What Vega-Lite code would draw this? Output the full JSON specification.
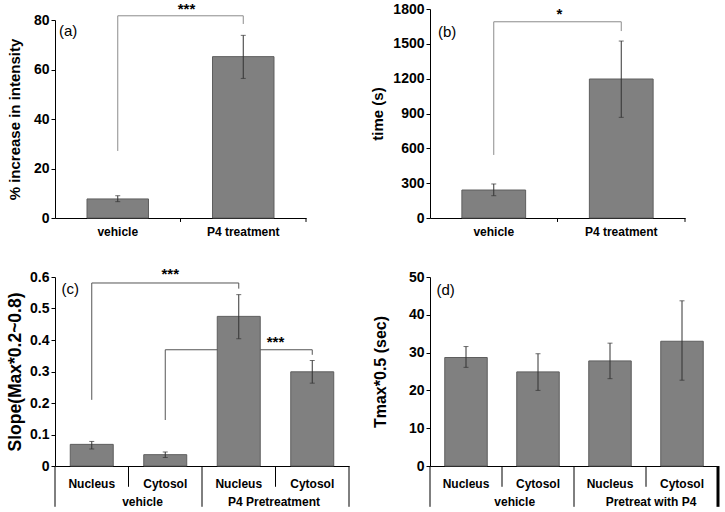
{
  "$schema": "https://vega.github.io/schema/vega-lite/v6.json",
  "background": "white",
  "padding": {"left": 6, "top": 1, "right": 0, "bottom": 0},
  "columns": 2,
  "spacing": {"row": 59, "column": 81},
  "bounds": "flush",
  "config": {
    "view": {"stroke": null},
    "font": "Liberation Sans",
    "text": {"font": "Liberation Sans", "color": "black"},
    "axis": {
      "domainColor": "black", "tickColor": "black", "labelColor": "black", "titleColor": "black",
      "labelFont": "Liberation Sans", "titleFont": "Liberation Sans",
      "labelFontWeight": "bold", "titleFontWeight": "bold", "titleFontSize": 15, "grid": false
    },
    "axisY": {"labelFontSize": 14, "tickSize": 4, "labelPadding": 2},
    "axisX": {"labelFontSize": 12, "labelAngle": 0, "ticks": false, "tickSize": 0}
  },
  "datasets": {
    "a_bars": [
      {"c": "vehicle", "v": 7.7, "lo": 6.6, "hi": 9.0},
      {"c": "P4 treatment", "v": 65.2, "lo": 56.4, "hi": 73.8}
    ],
    "a_br": [
      {"xa": "vehicle", "xb": "P4 treatment", "ya": 81.7, "yb": 81.7},
      {"xa": "vehicle", "xb": "vehicle", "ya": 81.7, "yb": 27.1},
      {"xa": "P4 treatment", "xb": "P4 treatment", "ya": 81.7, "yb": 78.4}
    ],
    "a_tk": [
      {"c": "vehicle", "t": 0, "b": -1.6},
      {"c": "P4 treatment", "t": 0, "b": -1.6}
    ],
    "b_bars": [
      {"c": "vehicle", "v": 241, "lo": 192, "hi": 293},
      {"c": "P4 treatment", "v": 1197, "lo": 867, "hi": 1524}
    ],
    "b_br": [
      {"xa": "vehicle", "xb": "P4 treatment", "ya": 1690, "yb": 1690},
      {"xa": "vehicle", "xb": "vehicle", "ya": 1690, "yb": 543},
      {"xa": "P4 treatment", "xb": "P4 treatment", "ya": 1690, "yb": 1610}
    ],
    "b_tk": [
      {"c": "vehicle", "t": 0, "b": -34},
      {"c": "P4 treatment", "t": 0, "b": -34}
    ],
    "c_bars": [
      {"k": "Nucleus|v", "v": 0.0687, "lo": 0.054, "hi": 0.078},
      {"k": "Cytosol|v", "v": 0.036, "lo": 0.027, "hi": 0.0445},
      {"k": "Nucleus|p", "v": 0.475, "lo": 0.404, "hi": 0.544},
      {"k": "Cytosol|p", "v": 0.299, "lo": 0.263, "hi": 0.335}
    ],
    "c_br": [
      {"xa": "Nucleus|v", "xb": "Nucleus|p", "ya": 0.581, "yb": 0.581},
      {"xa": "Nucleus|v", "xb": "Nucleus|v", "ya": 0.581, "yb": 0.21},
      {"xa": "Nucleus|p", "xb": "Nucleus|p", "ya": 0.581, "yb": 0.563},
      {"xa": "Cytosol|v", "xb": "Cytosol|p", "ya": 0.369, "yb": 0.369},
      {"xa": "Cytosol|v", "xb": "Cytosol|v", "ya": 0.369, "yb": 0.146},
      {"xa": "Cytosol|p", "xb": "Cytosol|p", "ya": 0.369, "yb": 0.353}
    ],
    "c_sep": [
      {"k": "Nucleus|v", "t": 0, "b": -0.066},
      {"k": "Cytosol|v", "t": 0, "b": -0.1295},
      {"k": "Nucleus|p", "t": 0, "b": -0.066},
      {"k": "Cytosol|p", "t": 0, "b": -0.1295}
    ],
    "d_bars": [
      {"k": "Nucleus|v", "v": 28.7, "lo": 26.1, "hi": 31.6},
      {"k": "Cytosol|v", "v": 24.9, "lo": 20.0, "hi": 29.7},
      {"k": "Nucleus|p", "v": 27.8, "lo": 23.1, "hi": 32.5},
      {"k": "Cytosol|p", "v": 33.0, "lo": 22.7, "hi": 43.7}
    ],
    "d_sep": [
      {"k": "Nucleus|v", "t": 0, "b": -5.5},
      {"k": "Cytosol|v", "t": 0, "b": -10.8},
      {"k": "Nucleus|p", "t": 0, "b": -5.5}
    ]
  },
  "concat": [
    {
      "width": 251, "height": 209,
      "encoding": {
        "x": {"type": "nominal", "scale": {"type": "band", "domain": ["vehicle", "P4 treatment"], "paddingInner": 0, "paddingOuter": 0}, "axis": {"title": null, "labelPadding": 8}},
        "y": {"type": "quantitative", "scale": {"domain": [0, 80], "range": [209, 11]}, "axis": {"values": [0, 20, 40, 60, 80], "title": "% increase in intensity", "titlePadding": 11}}
      },
      "layer": [
        {"data": {"name": "a_br"}, "mark": {"type": "rule", "color": "#8c8c8c", "strokeWidth": 1},
         "encoding": {"x": {"field": "xa"}, "x2": {"field": "xb"}, "y": {"field": "ya"}, "y2": {"field": "yb"}}},
        {"data": {"name": "a_bars"}, "mark": {"type": "bar", "fill": "#808080", "stroke": "#5e5e5e", "strokeWidth": 1, "width": {"band": 0.49}},
         "encoding": {"x": {"field": "c"}, "y": {"field": "v"}}},
        {"data": {"name": "a_bars"}, "mark": {"type": "rule", "color": "#333333", "strokeWidth": 1},
         "encoding": {"x": {"field": "c"}, "y": {"field": "lo"}, "y2": {"field": "hi"}}},
        {"data": {"name": "a_bars"}, "transform": [{"fold": ["lo", "hi"], "as": ["kk", "e"]}], "mark": {"type": "tick", "color": "#333333", "thickness": 1, "size": 5},
         "encoding": {"x": {"field": "c"}, "y": {"field": "e"}}},
        {"data": {"name": "a_tk"}, "mark": {"type": "rule", "color": "black", "strokeWidth": 1},
         "encoding": {"x": {"field": "c", "bandPosition": 1}, "y": {"field": "t"}, "y2": {"field": "b"}}},
        {"data": {"values": [{"c": "P4 treatment", "y": 84.5, "t": "***"}]}, "mark": {"type": "text", "fontSize": 15, "fontWeight": "bold", "dx": 6, "baseline": "middle"},
         "encoding": {"x": {"field": "c", "bandPosition": 0}, "y": {"field": "y"}, "text": {"field": "t"}}},
        {"data": {"values": [{"c": "vehicle", "y": 75.4, "t": "(a)"}]}, "mark": {"type": "text", "fontSize": 15, "align": "left", "dx": 4, "baseline": "middle"},
         "encoding": {"x": {"field": "c", "bandPosition": 0}, "y": {"field": "y"}, "text": {"field": "t"}}}
      ]
    },
    {
      "width": 255, "height": 209,
      "encoding": {
        "x": {"type": "nominal", "scale": {"type": "band", "domain": ["vehicle", "P4 treatment"], "paddingInner": 0, "paddingOuter": 0}, "axis": {"title": null, "labelPadding": 8}},
        "y": {"type": "quantitative", "scale": {"domain": [0, 1800]}, "axis": {"values": [0, 300, 600, 900, 1200, 1500, 1800], "format": "d", "title": "time (s)", "titlePadding": 7}}
      },
      "layer": [
        {"data": {"name": "b_br"}, "mark": {"type": "rule", "color": "#8c8c8c", "strokeWidth": 1},
         "encoding": {"x": {"field": "xa"}, "x2": {"field": "xb"}, "y": {"field": "ya"}, "y2": {"field": "yb"}}},
        {"data": {"name": "b_bars"}, "mark": {"type": "bar", "fill": "#808080", "stroke": "#5e5e5e", "strokeWidth": 1, "width": {"band": 0.5}},
         "encoding": {"x": {"field": "c"}, "y": {"field": "v"}}},
        {"data": {"name": "b_bars"}, "mark": {"type": "rule", "color": "#333333", "strokeWidth": 1},
         "encoding": {"x": {"field": "c"}, "y": {"field": "lo"}, "y2": {"field": "hi"}}},
        {"data": {"name": "b_bars"}, "transform": [{"fold": ["lo", "hi"], "as": ["kk", "e"]}], "mark": {"type": "tick", "color": "#333333", "thickness": 1, "size": 5},
         "encoding": {"x": {"field": "c"}, "y": {"field": "e"}}},
        {"data": {"name": "b_tk"}, "mark": {"type": "rule", "color": "black", "strokeWidth": 1},
         "encoding": {"x": {"field": "c", "bandPosition": 1}, "y": {"field": "t"}, "y2": {"field": "b"}}},
        {"data": {"values": [{"c": "P4 treatment", "y": 1761, "t": "*"}]}, "mark": {"type": "text", "fontSize": 15, "fontWeight": "bold", "dx": 2, "baseline": "middle"},
         "encoding": {"x": {"field": "c", "bandPosition": 0}, "y": {"field": "y"}, "text": {"field": "t"}}},
        {"data": {"values": [{"c": "vehicle", "y": 1604, "t": "(b)"}]}, "mark": {"type": "text", "fontSize": 15, "align": "left", "dx": 8, "baseline": "middle"},
         "encoding": {"x": {"field": "c", "bandPosition": 0}, "y": {"field": "y"}, "text": {"field": "t"}}}
      ]
    },
    {
      "width": 294, "height": 189,
      "encoding": {
        "x": {"type": "nominal", "scale": {"type": "band", "domain": ["Nucleus|v", "Cytosol|v", "Nucleus|p", "Cytosol|p"], "paddingInner": 0, "paddingOuter": 0}, "axis": {"title": null, "labelPadding": 12, "labelExpr": "split(datum.value, '|')[0]"}},
        "y": {"type": "quantitative", "scale": {"domain": [0, 0.6]}, "axis": {"values": [0, 0.1, 0.2, 0.3, 0.4, 0.5, 0.6], "format": "~g", "title": "Slope(Max*0.2~0.8)", "titleFontSize": 17.5, "titlePadding": 5}}
      },
      "layer": [
        {"data": {"name": "c_br"}, "mark": {"type": "rule", "color": "#555555", "strokeWidth": 1},
         "encoding": {"x": {"field": "xa"}, "x2": {"field": "xb"}, "y": {"field": "ya"}, "y2": {"field": "yb"}}},
        {"data": {"name": "c_bars"}, "mark": {"type": "bar", "fill": "#808080", "stroke": "#5e5e5e", "strokeWidth": 1, "width": {"band": 0.585}},
         "encoding": {"x": {"field": "k"}, "y": {"field": "v"}}},
        {"data": {"name": "c_bars"}, "mark": {"type": "rule", "color": "#333333", "strokeWidth": 1},
         "encoding": {"x": {"field": "k"}, "y": {"field": "lo"}, "y2": {"field": "hi"}}},
        {"data": {"name": "c_bars"}, "transform": [{"fold": ["lo", "hi"], "as": ["kk", "e"]}], "mark": {"type": "tick", "color": "#333333", "thickness": 1, "size": 5},
         "encoding": {"x": {"field": "k"}, "y": {"field": "e"}}},
        {"data": {"name": "c_sep"}, "mark": {"type": "rule", "color": "black", "strokeWidth": 1},
         "encoding": {"x": {"field": "k", "bandPosition": 1}, "y": {"field": "t"}, "y2": {"field": "b"}}},
        {"data": {"values": [{"k": "Nucleus|v", "t": 0, "b": -0.1295}]}, "mark": {"type": "rule", "color": "black", "strokeWidth": 1},
         "encoding": {"x": {"field": "k", "bandPosition": 0}, "y": {"field": "t"}, "y2": {"field": "b"}}},
        {"data": {"values": [{"k": "Cytosol|v", "y": -0.1263, "t": "vehicle"}]}, "mark": {"type": "text", "fontSize": 12, "fontWeight": "bold", "dx": 14, "baseline": "alphabetic"},
         "encoding": {"x": {"field": "k", "bandPosition": 0}, "y": {"field": "y"}, "text": {"field": "t"}}},
        {"data": {"values": [{"k": "Cytosol|p", "y": -0.1263, "t": "P4 Pretreatment"}]}, "mark": {"type": "text", "fontSize": 12, "fontWeight": "bold", "dx": -1.5, "baseline": "alphabetic"},
         "encoding": {"x": {"field": "k", "bandPosition": 0}, "y": {"field": "y"}, "text": {"field": "t"}}},
        {"data": {"values": [{"k": "Cytosol|v", "y": 0.611, "t": "***"}]}, "mark": {"type": "text", "fontSize": 15, "fontWeight": "bold", "dx": 5, "baseline": "middle"},
         "encoding": {"x": {"field": "k"}, "y": {"field": "y"}, "text": {"field": "t"}}},
        {"data": {"values": [{"k": "Cytosol|p", "y": 0.3945, "t": "***"}]}, "mark": {"type": "text", "fontSize": 15, "fontWeight": "bold", "baseline": "middle"},
         "encoding": {"x": {"field": "k", "bandPosition": 0}, "y": {"field": "y"}, "text": {"field": "t"}}},
        {"data": {"values": [{"k": "Nucleus|v", "y": 0.5625, "t": "(c)"}]}, "mark": {"type": "text", "fontSize": 15, "align": "left", "dx": 6.5, "baseline": "middle"},
         "encoding": {"x": {"field": "k", "bandPosition": 0}, "y": {"field": "y"}, "text": {"field": "t"}}}
      ]
    },
    {
      "width": 288, "height": 189,
      "encoding": {
        "x": {"type": "nominal", "scale": {"type": "band", "domain": ["Nucleus|v", "Cytosol|v", "Nucleus|p", "Cytosol|p"], "paddingInner": 0, "paddingOuter": 0}, "axis": {"title": null, "labelPadding": 12, "labelExpr": "split(datum.value, '|')[0]"}},
        "y": {"type": "quantitative", "scale": {"domain": [0, 50]}, "axis": {"values": [0, 10, 20, 30, 40, 50], "title": "Tmax*0.5 (sec)", "titleFontSize": 16, "titlePadding": 20}}
      },
      "layer": [
        {"data": {"name": "d_bars"}, "mark": {"type": "bar", "fill": "#808080", "stroke": "#5e5e5e", "strokeWidth": 1, "width": {"band": 0.59}},
         "encoding": {"x": {"field": "k"}, "y": {"field": "v"}}},
        {"data": {"name": "d_bars"}, "mark": {"type": "rule", "color": "#333333", "strokeWidth": 1},
         "encoding": {"x": {"field": "k"}, "y": {"field": "lo"}, "y2": {"field": "hi"}}},
        {"data": {"name": "d_bars"}, "transform": [{"fold": ["lo", "hi"], "as": ["kk", "e"]}], "mark": {"type": "tick", "color": "#333333", "thickness": 1, "size": 5},
         "encoding": {"x": {"field": "k"}, "y": {"field": "e"}}},
        {"data": {"name": "d_sep"}, "mark": {"type": "rule", "color": "black", "strokeWidth": 1},
         "encoding": {"x": {"field": "k", "bandPosition": 1}, "y": {"field": "t"}, "y2": {"field": "b"}}},
        {"data": {"values": [{"k": "Cytosol|p", "t": 0, "b": -10.8}]}, "mark": {"type": "rule", "color": "black", "strokeWidth": 3},
         "encoding": {"x": {"field": "k", "bandPosition": 1}, "y": {"field": "t"}, "y2": {"field": "b"}}},
        {"data": {"values": [{"k": "Nucleus|v", "t": 0, "b": -10.8}]}, "mark": {"type": "rule", "color": "black", "strokeWidth": 1},
         "encoding": {"x": {"field": "k", "bandPosition": 0}, "y": {"field": "t"}, "y2": {"field": "b"}}},
        {"data": {"values": [{"k": "Cytosol|v", "y": -10.52, "t": "vehicle"}]}, "mark": {"type": "text", "fontSize": 12, "fontWeight": "bold", "dx": 12.7, "baseline": "alphabetic"},
         "encoding": {"x": {"field": "k", "bandPosition": 0}, "y": {"field": "y"}, "text": {"field": "t"}}},
        {"data": {"values": [{"k": "Cytosol|p", "y": -10.52, "t": "Pretreat with P4"}]}, "mark": {"type": "text", "fontSize": 12, "fontWeight": "bold", "dx": 5, "baseline": "alphabetic"},
         "encoding": {"x": {"field": "k", "bandPosition": 0}, "y": {"field": "y"}, "text": {"field": "t"}}},
        {"data": {"values": [{"k": "Nucleus|v", "y": 46.5, "t": "(d)"}]}, "mark": {"type": "text", "fontSize": 15, "align": "left", "dx": 6.5, "baseline": "middle"},
         "encoding": {"x": {"field": "k", "bandPosition": 0}, "y": {"field": "y"}, "text": {"field": "t"}}}
      ]
    }
  ]
}
